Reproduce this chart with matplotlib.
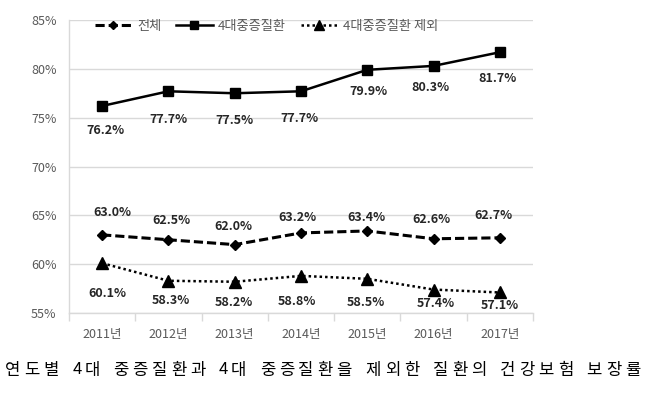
import matplotlib
matplotlib.use("Agg")
import matplotlib.pyplot as plt
from matplotlib.ticker import FixedLocator

plt.rcParams['font.family'] = ['Noto Sans CJK KR', 'DejaVu Sans']

# 데이터
years = ['2011년', '2012년', '2013년', '2014년', '2015년', '2016년', '2017년']
total = [63.0, 62.5, 62.0, 63.2, 63.4, 62.6, 62.7]          # 전체
major4 = [76.2, 77.7, 77.5, 77.7, 79.9, 80.3, 81.7]         # 4대중증질환
excl4 = [60.1, 58.3, 58.2, 58.8, 58.5, 57.4, 57.1]          # 4대중증질환 제외
caption = '연도별 4대 중증질환과 4대 중증질환을 제외한 질환의 건강보험 보장률'

# 라벨 위치 (픽셀 오프셋)
off_total = [(10, 22), (3, 19), (-1, 18), (-4, 15), (-1, 13), (-2, 19), (-6, 22)]
off_major = [(3, -25), (0, -28), (0, -27), (-2, -27), (1, -22), (-3, -22), (-2, -26)]
off_excl = [(5, -30), (2, -20), (-1, -21), (-4, -26), (-1, -24), (2, -14), (0, -13)]

W, H = 650, 396
fig = plt.figure(figsize=(W / 100, H / 100), dpi=100)
ax = fig.add_axes([69 / W, 1 - 313 / H, (533 - 69) / W, (313 - 20) / H])

x = list(range(len(years)))
l1, = ax.plot(x, total, color='black', lw=2.2, ls=(0, (3.0, 1.3)),
              marker='D', ms=5, label='전체')
l2, = ax.plot(x, major4, color='black', lw=1.8, marker='s', ms=7.5,
              label='4대중증질환')
l3, = ax.plot(x, excl4, color='black', lw=1.8, ls=(0, (1, 1.2)),
              marker='^', ms=8, label='4대중증질환 제외')

lab_kw = dict(textcoords='offset pixels', ha='center', va='center',
              fontsize=9, fontweight='bold', color='#262626')
for vals, offs in [(total, off_total), (major4, off_major), (excl4, off_excl)]:
    for i, v in enumerate(vals):
        ax.annotate(f'{v:.1f}%', (i, v), xytext=offs[i], **lab_kw)

ax.set_xlim(-0.5, len(years) - 0.5)
ax.set_ylim(55, 85)
ax.set_yticks(range(55, 90, 5))
ax.set_yticklabels([f'{v}%' for v in range(55, 90, 5)])
ax.set_xticks(x)
ax.set_xticklabels(years)
ax.xaxis.set_minor_locator(FixedLocator([i - 0.5 for i in range(len(years) + 1)]))

ax.yaxis.grid(True, color='#d9d9d9', lw=1)
ax.set_axisbelow(True)
for s in ['top', 'right']:
    ax.spines[s].set_visible(False)
for s in ['left', 'bottom']:
    ax.spines[s].set_color('#d9d9d9')
    ax.spines[s].set_linewidth(1)

ax.tick_params(axis='y', length=0, pad=9, labelsize=9, labelcolor='#595959')
ax.tick_params(axis='x', which='major', length=0, pad=11, labelsize=9,
               labelcolor='#595959')
ax.tick_params(axis='x', which='minor', length=6, color='#d9d9d9', width=1)

leg = ax.legend(handles=[l1, l2, l3], ncol=3, loc='upper left',
                bbox_to_anchor=(95 / W, 1 - 20 / H), bbox_transform=fig.transFigure,
                frameon=False, handlelength=2.8, handletextpad=0.4,
                columnspacing=1.1, borderpad=0, borderaxespad=0, fontsize=9.5,
                markerscale=0.85)
for t in leg.get_texts():
    t.set_color('#595959')

# 하단 제목 (자간 넓게)
cx = 5
for ch in caption:
    if ch == ' ':
        cx += 9.7
        continue
    fig.text(cx / W, 1 - 370 / H, ch, fontsize=12, color='black',
             ha='left', va='center')
    cx += 12 if ch.isdigit() else 19.2

fig.savefig('out.png', dpi=100)
